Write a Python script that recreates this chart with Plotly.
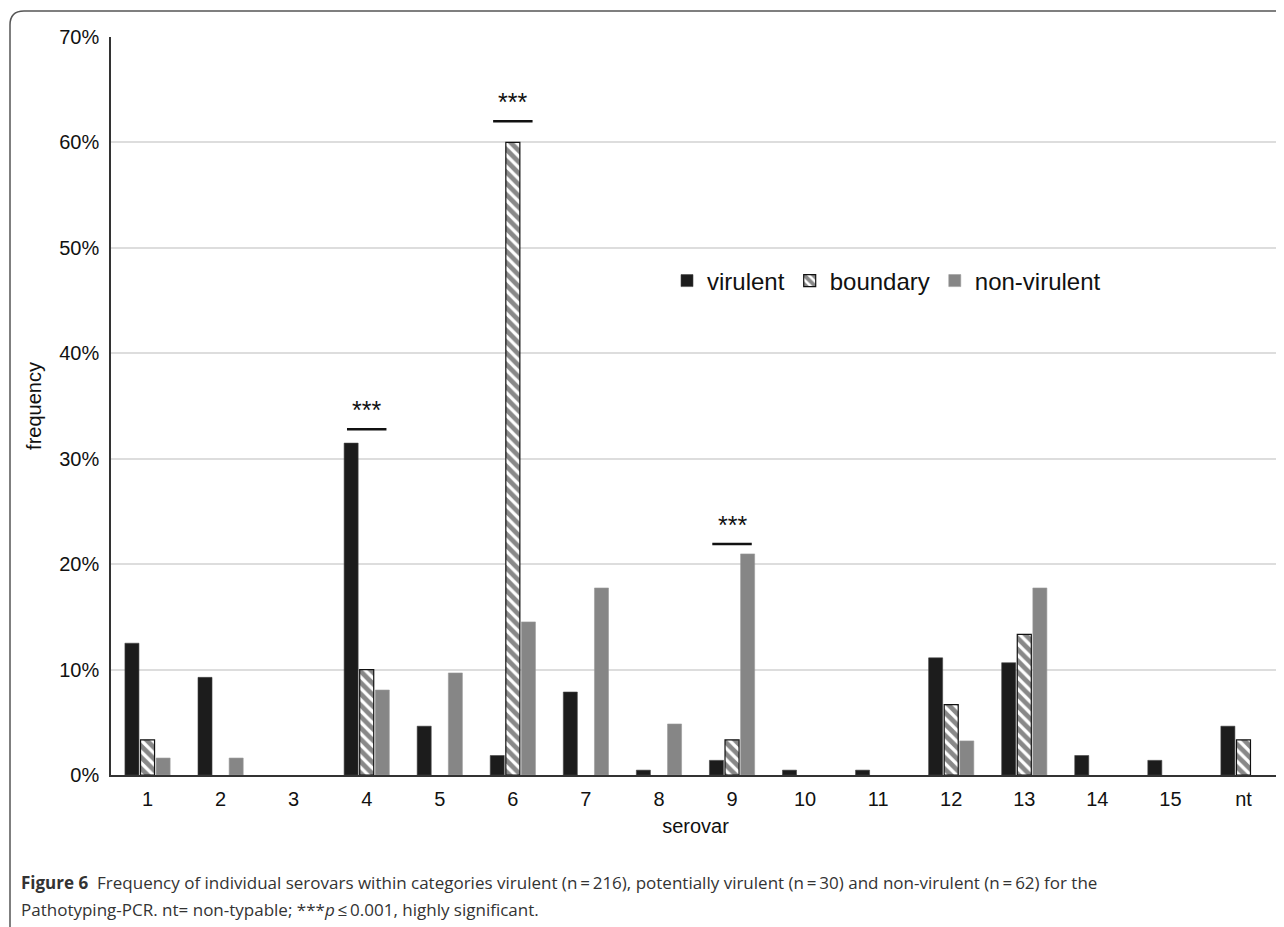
import plotly.graph_objects as go

categories = ["1", "2", "3", "4", "5", "6", "7", "8", "9", "10", "11", "12", "13", "14", "15", "nt"]
virulent = [12.50, 9.26, 0, 31.48, 4.63, 1.85, 7.87, 0.46, 1.39, 0.46, 0.46, 11.11, 10.65, 1.85, 1.39, 4.63]
boundary = [3.33, 0, 0, 10.00, 0, 60.00, 0, 0, 3.33, 0, 0, 6.67, 13.33, 0, 0, 3.33]
non_virulent = [1.61, 1.61, 0, 8.06, 9.68, 14.52, 17.74, 4.84, 20.97, 0, 0, 3.23, 17.74, 0, 0, 0]

sig_categories = ["4", "6", "9"]
sig_levels = [32.8, 62.0, 21.9]
sig_text = "***"

y_tick_vals = [0, 10, 20, 30, 40, 50, 60, 70]
y_tick_text = ["0%", "10%", "20%", "30%", "40%", "50%", "60%", "70%"]

# the page adds an 8px body margin; layout is placed so the screen positions match
OFF = 8
W, H = 1284, 927
ML, MT = 111 - OFF, 37 - OFF
MR = W - (1280 - OFF)
MB = H - (775 - OFF)
PW, PH = W - ML - MR, H - MT - MB


def px(xs):
    return (xs - OFF - ML) / PW


def py(ys):
    return (H - MB - (ys - OFF)) / PH


def hide_zero(vals):
    return [v if v else None for v in vals]


fig = go.Figure()
fig.add_trace(go.Bar(
    name="virulent", x=categories, y=hide_zero(virulent),
    marker=dict(color="#1c1c1c", line=dict(color="#444444", width=0.6)),
))
fig.add_trace(go.Bar(
    name="boundary", x=categories, y=hide_zero(boundary),
    marker=dict(color="white", line=dict(color="#111111", width=1.2),
                pattern=dict(shape="\\", fgcolor="#111111", bgcolor="white",
                             size=8, solidity=0.6)),
))
fig.add_trace(go.Bar(
    name="non-virulent", x=categories, y=hide_zero(non_virulent),
    marker=dict(color="#868686", line=dict(color="#9a9a9a", width=0.6)),
))

shapes = []
annotations = []
for c, lvl in zip(sig_categories, sig_levels):
    i = categories.index(c)
    shapes.append(dict(type="line", xref="x", yref="y", x0=i - 0.27, x1=i + 0.27,
                       y0=lvl, y1=lvl, line=dict(color="#111111", width=2.5)))
    annotations.append(dict(x=i, y=lvl, xref="x", yref="y", text=sig_text,
                            showarrow=False, yanchor="bottom", yshift=3,
                            font=dict(family="Liberation Sans, Arial", size=25, color="#111111")))

r = 14
path = (f"M {px(10)},{py(940)} L {px(10)},{py(11 + r)} "
        f"Q {px(10)},{py(11)} {px(10 + r)},{py(11)} L {px(1310)},{py(11)}")
shapes.append(dict(type="path", xref="paper", yref="paper", path=path,
                   line=dict(color="#555555", width=1.5)))

caption_lines = [
    "<b>Figure 6</b>  Frequency of individual serovars within categories virulent (n\u2009=\u2009216), "
    "potentially virulent (n\u2009=\u200930) and non-virulent (n\u2009=\u200962) for the",
    "Pathotyping-PCR. nt= non-typable; ***<i>p</i>\u2009\u2264\u20090.001, highly significant.",
]
for k, line in enumerate(caption_lines):
    annotations.append(dict(x=px(19), y=py(883 + 26 * k), xref="paper", yref="paper", text=line,
                            showarrow=False, xanchor="left", yanchor="middle", align="left",
                            font=dict(family="Open Sans", size=17, color="#333333")))

fig.update_layout(
    width=W, height=H,
    margin=dict(l=ML, r=MR, t=MT, b=MB, autoexpand=False),
    paper_bgcolor="white", plot_bgcolor="white",
    barmode="group", bargap=0.36, bargroupgap=0.1,
    font=dict(family="Liberation Sans, Arial", color="#111111"),
    legend=dict(orientation="h", x=px(667), y=py(281), xanchor="left", yanchor="middle",
                font=dict(size=24, color="#111111"), bgcolor="rgba(0,0,0,0)",
                itemwidth=30, traceorder="normal"),
    shapes=shapes, annotations=annotations,
)
fig.update_xaxes(
    type="category", categoryorder="array", categoryarray=categories,
    showline=True, linecolor="#333333", linewidth=2, automargin=False,
    ticks="", tickfont=dict(size=20, color="#111111"), ticklabelstandoff=5,
    title=dict(text="serovar", font=dict(size=20, color="#111111"), standoff=10),
)
fig.update_yaxes(
    range=[0, 70], tickvals=y_tick_vals, ticktext=y_tick_text, automargin=False,
    showgrid=True, gridcolor="#dddddd", gridwidth=1.5,
    showline=True, linecolor="#333333", linewidth=1.5,
    zeroline=False, tickfont=dict(size=20, color="#111111"), ticklabelstandoff=6,
    title=dict(text="frequency", font=dict(size=20, color="#111111"), standoff=12),
)

fig.write_html("out.html")
